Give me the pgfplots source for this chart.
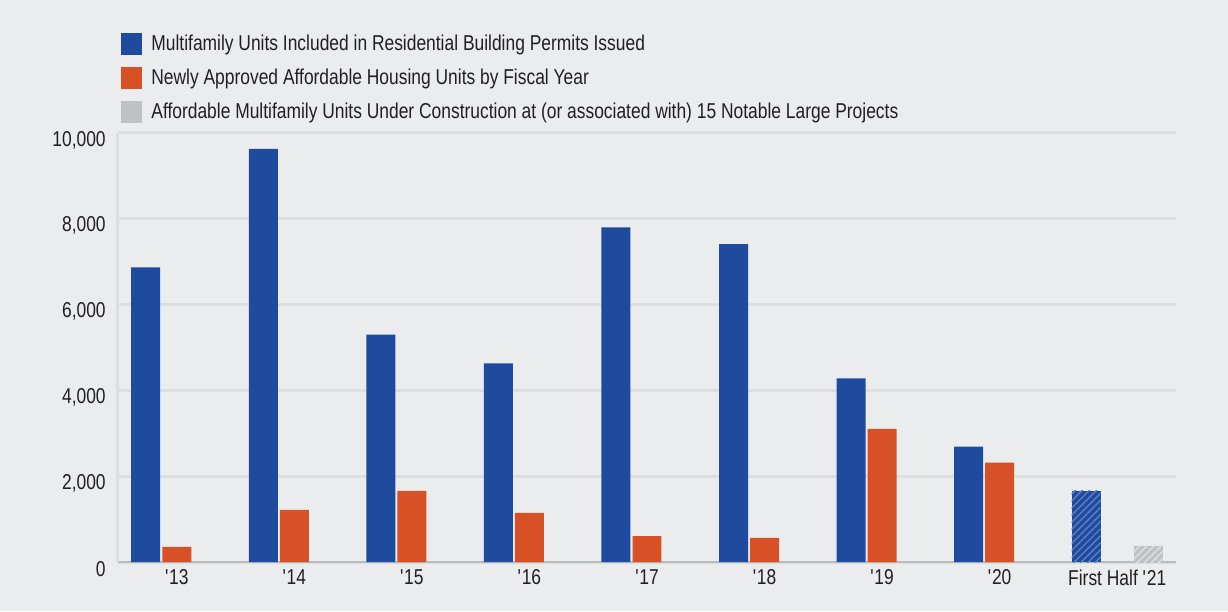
\documentclass[border=0pt]{standalone}
\usepackage{fontspec}
\setmainfont{Liberation Sans}[FakeStretch=0.81]
\usepackage{pgfplots}
\pgfplotsset{compat=1.18}
\usetikzlibrary{patterns.meta}
\definecolor{bg}{RGB}{235,236,238}
\definecolor{blueC}{RGB}{31,75,159}
\definecolor{blueL}{RGB}{95,128,192}
\definecolor{orangeC}{RGB}{216,80,38}
\definecolor{grayC}{RGB}{192,193,197}
\definecolor{grayL}{RGB}{222,223,226}
\definecolor{gridC}{RGB}{221,222,224}
\definecolor{axisC}{RGB}{186,187,191}
\definecolor{txt}{RGB}{35,31,32}
\begin{document}
\begin{tikzpicture}
\fill[bg] (-118pt,-49pt) rectangle (1110pt,562pt);
\begin{axis}[
  at={(0pt,0pt)}, anchor=south west,
  scale only axis, width=1058pt, height=429pt,
  xmin=-0.5, xmax=8.5, ymin=0, ymax=10000,
  ybar, bar width=0.2466,
  axis x line*=bottom, axis y line*=left,
  x axis line style={draw=axisC, line width=2pt, -},
  y axis line style={draw=gridC, line width=3pt, -},
  ymajorgrids, grid style={draw=gridC, line width=3pt},
  major tick length=0pt,
  xtick={0,...,8},
  xticklabels={\textquotesingle13,\textquotesingle14,\textquotesingle15,\textquotesingle16,\textquotesingle17,\textquotesingle18,\textquotesingle19,\textquotesingle20,First Half \textquotesingle21},
  ytick={0,2000,4000,6000,8000,10000},
  scaled y ticks=false,
  /pgf/number format/assume math mode=true,
  tick label style={font=\fontsize{21.5}{24}\selectfont, text=txt},
  yticklabel style={xshift=-8.8pt, yshift=-7pt},
  xticklabel style={yshift=-4pt},
  legend style={at={(0,1)}, anchor=south west, xshift=3pt, yshift=10pt,
    draw=none, fill=none, font=\fontsize{21.5}{24}\selectfont, text=txt,
    row sep=12pt, cells={anchor=west}, inner sep=0pt},
  legend cell align=left,
  legend image code/.code={\fill[#1, draw=none] (0pt,-11pt) rectangle (21pt,11pt); \path (28pt,0pt);},
]
\addlegendimage{fill=blueC}
\addlegendentry{Multifamily Units Included in Residential Building Permits Issued}
\addlegendimage{fill=orangeC}
\addlegendentry{Newly Approved Affordable Housing Units by Fiscal Year}
\addlegendimage{fill=grayC}
\addlegendentry{Affordable Multifamily Units Under Construction at (or associated with) 15 Notable Large Projects}

\addplot[forget plot, fill=blueC, draw=none, bar shift=-0.264] coordinates {
(0,6870) (1,9630) (2,5300) (3,4630) (4,7800) (5,7410) (6,4280) (7,2690)};
\addplot[forget plot, fill=blueC, draw=none, bar shift=-0.264,
  postaction={pattern={Lines[angle=45,distance=5pt,line width=1.4pt]}, pattern color=blueL}] coordinates {
(8,1660)};
\addplot[forget plot, fill=orangeC, draw=none, bar shift=0] coordinates {
(0,350) (1,1215) (2,1660) (3,1145) (4,605) (5,560) (6,3105) (7,2315)};
\addplot[forget plot, fill=grayC, draw=none, bar shift=0.264,
  postaction={pattern={Lines[angle=45,distance=5pt,line width=1.4pt]}, pattern color=grayL}] coordinates {
(8,375)};
\end{axis}
\end{tikzpicture}
\end{document}
